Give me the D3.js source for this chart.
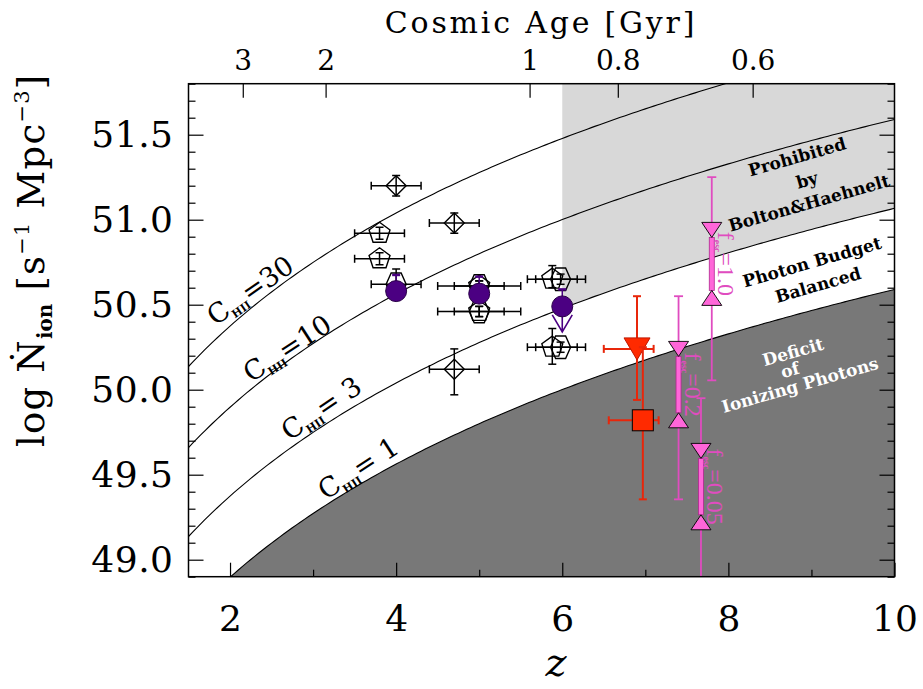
<!DOCTYPE html>
<html>
<head>
<meta charset="utf-8">
<script src="https://cdn.jsdelivr.net/npm/d3@7"></script>
<style>
  body { margin: 0; background: #fff; }
  svg { display: block; }
  text { font-family: "DejaVu Serif", "Liberation Serif", serif; }
</style>
</head>
<body>
<svg id="chart" width="923" height="689"></svg>
<script>
// ---------------- data ----------------
// Clumping factors of the reionization-balance curves and their labels
const clumpFactors = [30, 10, 3, 1];
const clumpLabelText = ["=30", "=10", "= 3", "= 1"];

// Axis ticks
const zMajorTicks = [2, 4, 6, 8, 10];
const zMinorTicks = [3, 5, 7, 9];
const logNMajorTicks = [49.0, 49.5, 50.0, 50.5, 51.0, 51.5];
const ageTicks = [3, 2, 1, 0.8, 0.6];
const ageTickLabels = ["3", "2", "1", "0.8", "0.6"];

// Literature estimates (open symbols)
const litShape  = ["diamond", "diamond", "diamond", "pentagon", "pentagon", "hexagon",
                   "pentagon", "hexagon", "pentagon", "hexagon",
                   "pentagon", "hexagon", "pentagon", "hexagon"];
const litZ      = [4.0, 4.7, 4.7, 3.8, 3.8, 4.0, 5.0, 5.0, 5.0, 5.0, 5.88, 5.98, 5.88, 5.98];
const litLogN   = [51.20, 50.98, 50.12, 50.92, 50.77, 50.62, 50.61, 50.61, 50.46, 50.46, 50.65, 50.65, 50.25, 50.25];
const litZErr   = [0.3, 0.3, 0.3, 0.3, 0.3, 0.3, 0.3, 0.5, 0.3, 0.5, 0.3, 0.3, 0.3, 0.3];
const litErrHi  = [0.06, 0.06, 0.12, 0.035, 0.035, 0.09, 0.03, 0.03, 0.03, 0.03, 0.08, 0.03, 0.11, 0.03];
const litErrLo  = [0.06, 0.06, 0.15, 0.035, 0.035, 0.05, 0.03, 0.03, 0.03, 0.03, 0.05, 0.03, 0.10, 0.03];

// Filled circles (z = 4, 5, 6); the z = 6 value is an upper limit
const circZ      = [4.0, 5.0, 6.0];
const circLogN   = [50.58, 50.565, 50.49];
const circErrHi  = [0.095, 0.10, 0.10];
const circLimit  = [null, null, 50.34];

// z ~ 7 estimates (red)
const redShape   = ["triangle", "square"];
const redZ       = [6.9, 6.97];
const redLogN    = [50.24, 49.82];
const redZErrLo  = [0.40, 0.41];
const redZErrHi  = [0.20, 0.19];
const redErrHi   = [0.31, 0.43];
const redErrLo   = [0.30, 0.465];

// Escape-fraction ranges (pink)
const fescLabel  = ["1.0", "0.2", "0.05"];
const fescZ      = [7.8, 7.4, 7.67];
const fescTop    = [50.94, 50.24, 49.64];
const fescBottom = [50.54, 49.82, 49.22];
const fescErrTop = [51.25, 50.55, 49.95];
const fescErrBot = [50.055, 49.355, 48.755];

// ---------------- setup ----------------
const svg = d3.select("#chart");
const plotLeft = 188.5, plotRight = 894.5, plotTop = 83.7, plotBottom = 576.7;

const x = d3.scaleLinear().domain([1.5, 10]).range([plotLeft, plotRight]);
const y = d3.scaleLinear().domain([48.9, 51.8]).range([plotBottom, plotTop]);

// Ionizing photon rate needed to balance recombinations, log10 [s^-1 Mpc^-3]
const clumpNorm = 49.80;
const logNdot = (z, c) => clumpNorm + Math.log10(c) + 3 * Math.log10((1 + z) / 6);

// Flat LCDM cosmic age -> redshift
const hubbleTime = 13.97, omegaM = 0.3, omegaL = 0.7;
const ageToZ = t => Math.pow(Math.sinh(1.5 * Math.sqrt(omegaL) * t / hubbleTime) /
                             Math.sqrt(omegaL / omegaM), -2 / 3) - 1;

svg.append("defs").append("clipPath").attr("id", "plotClip")
  .append("rect").attr("x", plotLeft).attr("y", plotTop)
  .attr("width", plotRight - plotLeft).attr("height", plotBottom - plotTop);

const plot = svg.append("g").attr("clip-path", "url(#plotClip)");

// ---------------- shaded regions ----------------
const zGrid = d3.range(1.5, 10.0001, 0.05);

// Prohibited region (z >= 6, above C = 3)
plot.append("path")
  .datum(zGrid.filter(z => z >= 6 - 1e-9))
  .attr("fill", "#d8d8d8")
  .attr("d", d3.area().x(z => x(z)).y0(z => y(logNdot(z, 3))).y1(plotTop));

// Deficit region (below C = 1)
plot.append("path")
  .datum(zGrid.filter(z => z >= 2 - 1e-9))
  .attr("fill", "#787878")
  .attr("d", d3.area().x(z => x(z)).y0(plotBottom).y1(z => y(logNdot(z, 1))));

// ---------------- clumping curves ----------------
const curve = d3.line().x(d => x(d[0])).y(d => y(d[1]));
clumpFactors.forEach(c => {
  plot.append("path")
    .datum(zGrid.map(z => [z, logNdot(z, c)]))
    .attr("fill", "none").attr("stroke", "#000").attr("stroke-width", 1.1)
    .attr("d", curve);
});

// curve labels
const clumpLabelPos = [[250, 290, -35], [287, 348, -33], [321, 408, -34], [358, 468, -33]];
clumpFactors.forEach((c, i) => {
  const [lx, ly, ang] = clumpLabelPos[i];
  const t = svg.append("text")
    .attr("transform", `translate(${lx},${ly}) rotate(${ang})`)
    .attr("text-anchor", "middle").attr("dy", "0.36em")
    .attr("font-size", 27);
  t.append("tspan").text("C");
  t.append("tspan").attr("font-size", 11).attr("font-weight", "bold").attr("dy", 5).text("HII");
  t.append("tspan").attr("dy", -5).text(clumpLabelText[i]);
});

// region annotations
function regionText(lines, color) {
  lines.forEach(([txt, cx, cy]) => {
    svg.append("text")
      .attr("transform", `translate(${cx},${cy}) rotate(-16)`)
      .attr("text-anchor", "middle").attr("dy", "0.35em")
      .attr("font-size", 17).attr("font-weight", "bold")
      .attr("fill", color).text(txt);
  });
}
regionText([["Prohibited", 797, 157], ["by", 807, 180], ["Bolton&Haehnelt", 809, 203]], "#000");
regionText([["Photon Budget", 812, 262], ["Balanced", 818, 285]], "#000");
regionText([["Deficit", 793, 352], ["of", 790, 370], ["Ionizing Photons", 800, 385]], "#fff");

// ---------------- axes ----------------
const axisG = svg.append("g");
function styleAxis(g) {
  g.select(".domain").remove();
  g.selectAll(".tick line").attr("stroke", "#000").attr("stroke-width", 1.2);
  g.selectAll(".tick text").attr("fill", "#000")
    .style("font-family", '"DejaVu Serif", serif');
}

// bottom
axisG.append("g").attr("transform", `translate(0,${plotBottom})`)
  .call(d3.axisBottom(x).tickValues(zMajorTicks).tickSize(-14).tickPadding(29).tickFormat(d3.format("d")))
  .call(styleAxis)
  .call(g => g.selectAll(".tick text").attr("font-size", 36));
axisG.append("g").attr("transform", `translate(0,${plotBottom})`)
  .call(d3.axisBottom(x).tickValues(zMinorTicks).tickSize(-7).tickFormat(""))
  .call(styleAxis);

// top (cosmic age)
axisG.append("g").attr("transform", `translate(0,${plotTop})`)
  .call(d3.axisTop(x).tickValues(ageTicks.map(ageToZ)).tickSize(-14).tickPadding(14)
        .tickFormat((d, i) => ageTickLabels[i]))
  .call(styleAxis)
  .call(g => g.selectAll(".tick text").attr("font-size", 28));

// left / right
const logNMinor = d3.range(48.9, 51.85, 0.1).map(v => +v.toFixed(1))
  .filter(v => !logNMajorTicks.some(m => Math.abs(m - v) < 1e-6));
axisG.append("g").attr("transform", `translate(${plotLeft},0)`)
  .call(d3.axisLeft(y).tickValues(logNMajorTicks).tickSize(-15).tickPadding(15).tickFormat(d3.format(".1f")))
  .call(styleAxis)
  .call(g => g.selectAll(".tick text").attr("font-size", 36).attr("letter-spacing", 0.5));
axisG.append("g").attr("transform", `translate(${plotLeft},0)`)
  .call(d3.axisLeft(y).tickValues(logNMinor).tickSize(-7).tickFormat(""))
  .call(styleAxis);
axisG.append("g").attr("transform", `translate(${plotRight},0)`)
  .call(d3.axisRight(y).tickValues(logNMajorTicks).tickSize(-15).tickFormat(""))
  .call(styleAxis);
axisG.append("g").attr("transform", `translate(${plotRight},0)`)
  .call(d3.axisRight(y).tickValues(logNMinor).tickSize(-7).tickFormat(""))
  .call(styleAxis);

// axis titles
svg.append("text").attr("x", 541).attr("y", 33).attr("text-anchor", "middle")
  .attr("font-size", 30).attr("letter-spacing", 2.8).text("Cosmic Age [Gyr]");

svg.append("text").attr("x", 556).attr("y", 676).attr("text-anchor", "middle")
  .attr("font-size", 40).attr("font-style", "italic").text("z");

const yl = svg.append("text").attr("transform", "translate(44,447) rotate(-90)")
  .attr("font-size", 37).attr("letter-spacing", 1.2);
yl.append("tspan").text("log Ṅ");
yl.append("tspan").attr("font-size", 20).attr("font-weight", "bold").attr("letter-spacing", 0).attr("dy", 8).text("ion");
yl.append("tspan").attr("dy", -8).text(" [s");
yl.append("tspan").attr("font-size", 21).attr("dy", -15).text("−1");
yl.append("tspan").attr("dy", 15).text(" Mpc");
yl.append("tspan").attr("font-size", 21).attr("dy", -15).text("−3");
yl.append("tspan").attr("dy", 15).text("]");

// ---------------- markers ----------------
function polygon(n, r, startDeg, sy = 1) {
  const pts = d3.range(n).map(i => {
    const a = (startDeg + i * 360 / n) * Math.PI / 180;
    return [r * Math.cos(a), r * Math.sin(a) * sy];
  });
  return "M" + pts.map(p => p[0].toFixed(2) + "," + p[1].toFixed(2)).join("L") + "Z";
}
const shapePath = {
  diamond: polygon(4, 10, -90),
  pentagon: polygon(5, 11, -90),
  hexagon: polygon(6, 10, 0, 1.3)
};

function errorBars(g, cx, cyHi, cyLo, xl, xr, cy, color, width, cap) {
  if (xl !== null) {
    g.append("line").attr("x1", xl).attr("x2", xr).attr("y1", cy).attr("y2", cy);
    g.append("line").attr("x1", xl).attr("x2", xl).attr("y1", cy - cap).attr("y2", cy + cap);
    g.append("line").attr("x1", xr).attr("x2", xr).attr("y1", cy - cap).attr("y2", cy + cap);
  }
  if (cyHi !== null) {
    g.append("line").attr("x1", cx).attr("x2", cx).attr("y1", cyHi).attr("y2", cyLo);
    g.append("line").attr("x1", cx - cap).attr("x2", cx + cap).attr("y1", cyHi).attr("y2", cyHi);
    g.append("line").attr("x1", cx - cap).attr("x2", cx + cap).attr("y1", cyLo).attr("y2", cyLo);
  }
  g.selectAll("line").attr("stroke", color).attr("stroke-width", width);
}

const markers = svg.append("g").attr("clip-path", "url(#plotClip)");

// open literature symbols
litZ.forEach((z, i) => {
  const g = markers.append("g");
  const cx = x(z), cy = y(litLogN[i]);
  errorBars(g, cx, y(litLogN[i] + litErrHi[i]), y(litLogN[i] - litErrLo[i]),
            x(z - litZErr[i]), x(z + litZErr[i]), cy, "#000", 1.5, 4);
  g.append("path").attr("transform", `translate(${cx},${cy})`)
    .attr("d", shapePath[litShape[i]])
    .attr("fill", "none").attr("stroke", "#000").attr("stroke-width", 1.4);
});

// filled circles
circZ.forEach((z, i) => {
  const g = markers.append("g");
  const cx = x(z), cy = y(circLogN[i]);
  const top = y(circLogN[i] + circErrHi[i]);
  g.append("line").attr("x1", cx).attr("x2", cx).attr("y1", top).attr("y2", cy)
    .attr("stroke", "#4b0082").attr("stroke-width", 1.5);
  g.append("line").attr("x1", cx - 4).attr("x2", cx + 4).attr("y1", top).attr("y2", top)
    .attr("stroke", "#4b0082").attr("stroke-width", 2.5);
  if (circLimit[i] !== null) {
    const tip = y(circLimit[i]);
    g.append("path")
      .attr("d", `M${cx},${cy}L${cx},${tip}M${cx - 10},${tip - 17}L${cx},${tip}L${cx + 10},${tip - 17}`)
      .attr("fill", "none").attr("stroke", "#4b0082").attr("stroke-width", 1.6);
  }
  g.append("circle").attr("cx", cx).attr("cy", cy).attr("r", 10.5)
    .attr("fill", "#4b0082").attr("stroke", "#2a0048").attr("stroke-width", 1);
});

// red z ~ 7 estimates
redZ.forEach((z, i) => {
  const g = markers.append("g");
  const cx = x(z), cy = y(redLogN[i]);
  errorBars(g, cx, y(redLogN[i] + redErrHi[i]), y(redLogN[i] - redErrLo[i]),
            x(z - redZErrLo[i]), x(z + redZErrHi[i]), cy, "#e8260a", 2, 4);
  if (redShape[i] === "triangle") {
    g.append("path").attr("transform", `translate(${cx},${cy})`)
      .attr("d", "M-13,-11L13,-11L0,11Z")
      .attr("fill", "#ff2a00").attr("stroke", "#c01800").attr("stroke-width", 1);
  } else {
    g.append("rect").attr("x", cx - 10.5).attr("y", cy - 10.5).attr("width", 21).attr("height", 21)
      .attr("fill", "#ff2a00").attr("stroke", "#000").attr("stroke-width", 1);
  }
});

// escape-fraction ranges
fescZ.forEach((z, i) => {
  const g = markers.append("g");
  const cx = x(z), yTop = y(fescTop[i]), yBot = y(fescBottom[i]);
  errorBars(g, cx, y(fescErrTop[i]), y(fescErrBot[i]), null, null, null, "#e04cc0", 1.8, 4.5);
  g.append("rect").attr("x", cx - 2.5).attr("y", yTop + 7.5).attr("width", 5)
    .attr("height", yBot - yTop - 15)
    .attr("fill", "#ff66d9").attr("stroke", "#b02890").attr("stroke-width", 0.8);
  g.append("path").attr("transform", `translate(${cx},${yTop})`)
    .attr("d", "M-10,-7.5L10,-7.5L0,7.5Z")
    .attr("fill", "#ff66d9").attr("stroke", "#000").attr("stroke-width", 0.9);
  g.append("path").attr("transform", `translate(${cx},${yBot})`)
    .attr("d", "M-10,7.5L10,7.5L0,-7.5Z")
    .attr("fill", "#ff66d9").attr("stroke", "#000").attr("stroke-width", 0.9);

  const lbl = svg.append("text")
    .attr("transform", `translate(${cx + 6},${(yTop + yBot) / 2}) rotate(90)`)
    .attr("text-anchor", "middle").attr("font-size", 24).attr("fill", "#e04cc0")
    .style("font-family", '"Liberation Serif", serif');
  lbl.append("tspan").text("f");
  lbl.append("tspan").attr("font-size", 10).attr("font-weight", "bold").attr("dy", 4).text("esc");
  lbl.append("tspan").attr("dy", -4).text("=" + fescLabel[i]);
});

// frame
svg.append("rect").attr("x", plotLeft).attr("y", plotTop)
  .attr("width", plotRight - plotLeft).attr("height", plotBottom - plotTop)
  .attr("fill", "none").attr("stroke", "#000").attr("stroke-width", 1.5);
</script>
</body>
</html>
